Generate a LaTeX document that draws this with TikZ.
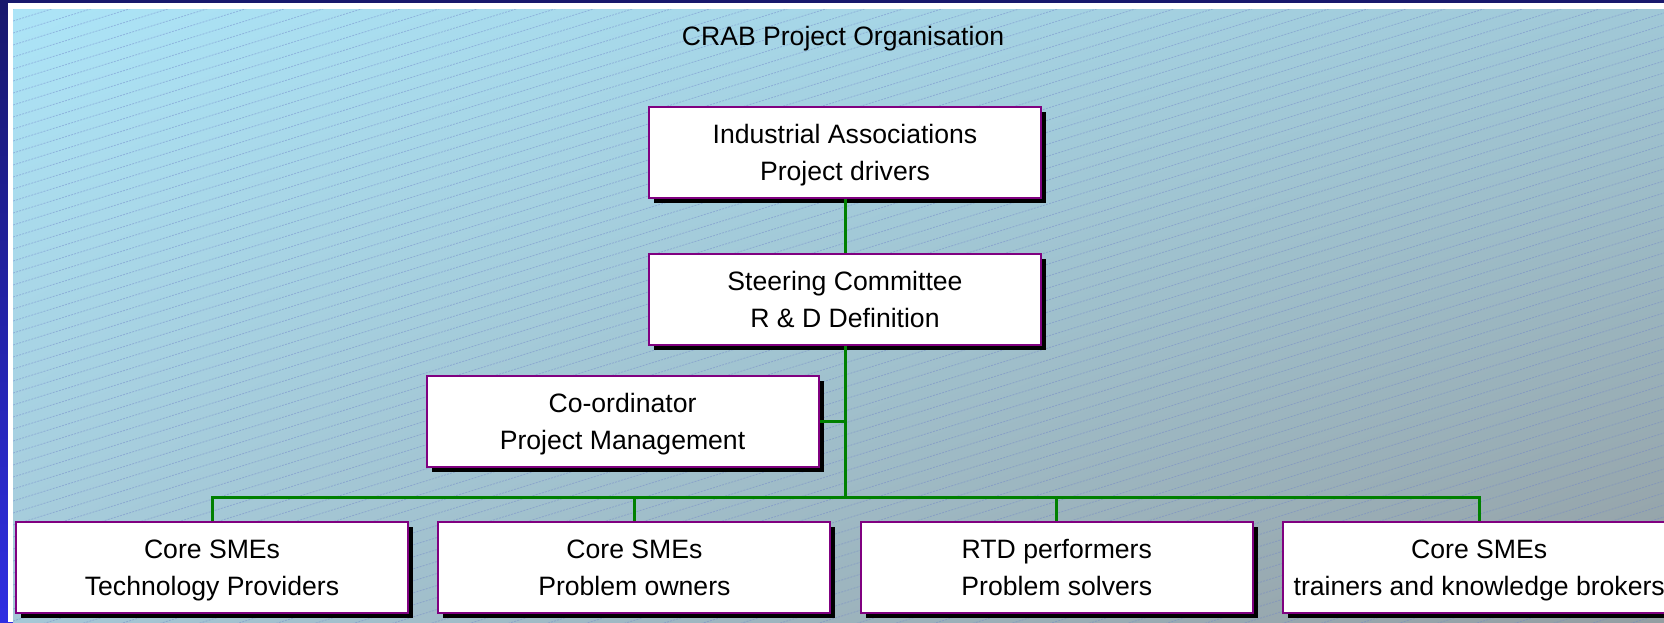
\documentclass[tikz,border=0pt]{standalone}
\usepackage{fontspec}
\setmainfont{Liberation Sans}
\usetikzlibrary{positioning, shadows, shadings}
\definecolor{framenavy}{RGB}{24,24,108}
\definecolor{frameblue}{RGB}{46,46,226}
\definecolor{panelUL}{RGB}{172,228,247}
\definecolor{panelUR}{RGB}{160,200,215}
\definecolor{panelLL}{RGB}{165,200,215}
\definecolor{panelLR}{RGB}{148,158,162}
\definecolor{hatchcol}{RGB}{110,130,200}
\definecolor{boxline}{RGB}{128,0,128}
\definecolor{linkgreen}{RGB}{0,128,0}
\newcommand\orgfont{\fontsize{13.3}{18.5}\selectfont}
\tikzset{
	orgbox/.style={draw=boxline, line width=1pt, fill=white, minimum width=196pt, minimum height=45.5pt, inner sep=0pt, align=center, font=\orgfont,
		text height=27.5pt, text depth=0pt,
		drop shadow={shadow xshift=2.5pt, shadow yshift=-2.5pt, fill=black, opacity=1}},
	orglink/.style={draw=linkgreen, line width=1.5pt},
	hatch/.style={hatchcol, opacity=0.45, line width=0.4pt, dash pattern=on 1pt off 0.6pt},
}
\begin{document}
\begin{tikzpicture}
		[x=0.5pt, y=-0.5pt]
		\useasboundingbox (0,0) rectangle (1664,622);
		% frame and panel
		\shade[top color=framenavy, bottom color=frameblue] (0,0) rectangle (1664,622);
		\fill[white] (8,3) rectangle (1664,622);
		\shade[upper left=panelUL, upper right=panelUR, lower left=panelLL, lower right=panelLR] (13,9) rectangle (1664,622);
		\begin{scope}
			\clip (13,9) rectangle (1664,622);
			\foreach \c in {9,21,...,1150}
				\draw[hatch] (13,\c) -- (1664,\c-512);
		\end{scope}
	
		\node[font=\orgfont, anchor=base] (title) at (843,45) {CRAB Project Organisation};
	
		\node[orgbox] (drivers) at (845,152.5) {Industrial Associations\\Project drivers};
		\node[orgbox, below=27pt of drivers] (steering) {Steering Committee\\R \& D Definition};
		\node[orgbox] (coord) at (622.5,421.5) {Co-ordinator\\Project Management};
		\node[orgbox] (tech) at (212,567.5) {Core SMEs\\Technology Providers};
		\node[orgbox, right=14.2pt of tech] (owners) {Core SMEs\\Problem owners};
		\node[orgbox, right=14.2pt of owners] (solvers) {RTD performers\\Problem solvers};
		\node[orgbox, right=14.2pt of solvers] (brokers) {Core SMEs\\trainers and knowledge brokers};
	
		\coordinate (bus) at (845,497);
		\draw[orglink] (drivers) -- (steering);
		\draw[orglink] (steering) -- (bus);
		\draw[orglink] (coord.east) -- (coord.east -| steering);
		\draw[orglink] (tech.north) |- (bus) -| (brokers.north);
		\draw[orglink] (owners.north) -- (owners.north |- bus);
		\draw[orglink] (solvers.north) -- (solvers.north |- bus);
	\end{tikzpicture}
\end{document}
